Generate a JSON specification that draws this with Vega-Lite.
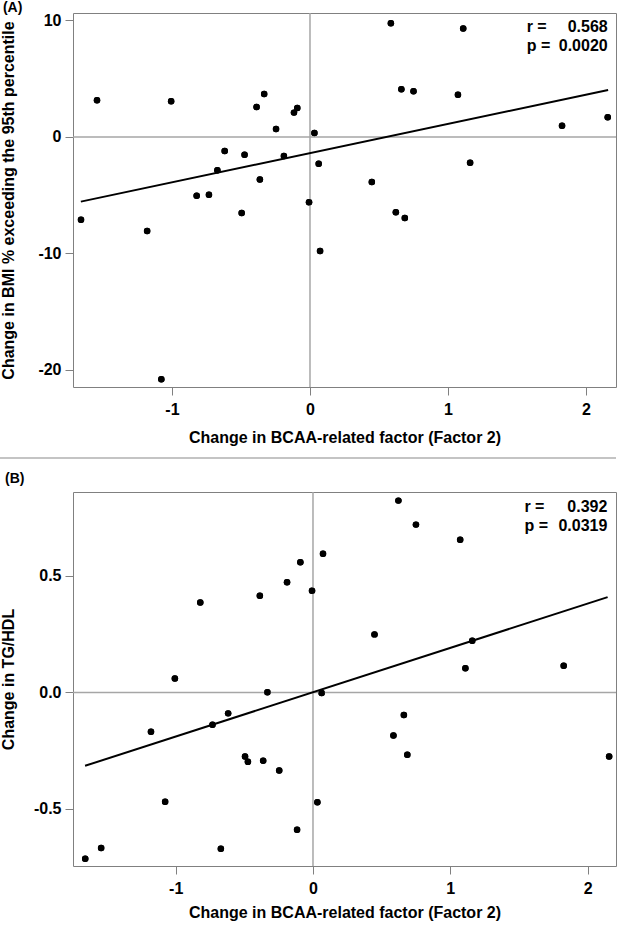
{
  "$schema": "https://vega.github.io/schema/vega-lite/v6.json",
  "padding": {"left": -3, "top": 0, "right": 0, "bottom": 0},
  "autosize": {"type": "pad"},
  "spacing": 11,
  "datasets": {
    "pts": [
      {"x": -1.659, "bmi": -7.10, "tg": -0.714},
      {"x": -1.543, "bmi": 3.15, "tg": -0.668},
      {"x": -1.180, "bmi": -8.07, "tg": -0.169},
      {"x": -1.077, "bmi": -20.8, "tg": -0.469},
      {"x": -1.006, "bmi": 3.06, "tg": 0.060},
      {"x": -0.821, "bmi": -5.04, "tg": 0.386},
      {"x": -0.732, "bmi": -4.95, "tg": -0.139},
      {"x": -0.671, "bmi": -2.86, "tg": -0.671},
      {"x": -0.618, "bmi": -1.20, "tg": -0.090},
      {"x": -0.495, "bmi": -6.52, "tg": -0.275},
      {"x": -0.474, "bmi": -1.52, "tg": -0.298},
      {"x": -0.387, "bmi": 2.58, "tg": 0.415},
      {"x": -0.363, "bmi": -3.66, "tg": -0.293},
      {"x": -0.332, "bmi": 3.69, "tg": 0.001},
      {"x": -0.246, "bmi": 0.69, "tg": -0.335},
      {"x": -0.189, "bmi": -1.63, "tg": 0.473},
      {"x": -0.116, "bmi": 2.09, "tg": -0.589},
      {"x": -0.092, "bmi": 2.49, "tg": 0.559},
      {"x": -0.007, "bmi": -5.61, "tg": 0.436},
      {"x": 0.032, "bmi": 0.34, "tg": -0.471},
      {"x": 0.063, "bmi": -2.29, "tg": -0.003},
      {"x": 0.073, "bmi": -9.78, "tg": 0.595},
      {"x": 0.448, "bmi": -3.86, "tg": 0.249},
      {"x": 0.586, "bmi": 9.76, "tg": -0.185},
      {"x": 0.622, "bmi": -6.47, "tg": 0.823},
      {"x": 0.662, "bmi": 4.09, "tg": -0.097},
      {"x": 0.687, "bmi": -6.95, "tg": -0.268},
      {"x": 0.750, "bmi": 3.92, "tg": 0.720},
      {"x": 1.072, "bmi": 3.63, "tg": 0.655},
      {"x": 1.110, "bmi": 9.30, "tg": 0.104},
      {"x": 1.160, "bmi": -2.21, "tg": 0.222},
      {"x": 1.826, "bmi": 0.97, "tg": 0.114},
      {"x": 2.157, "bmi": 1.69, "tg": -0.275}
    ],
    "fitA": [
      {"x": -1.66, "bmi": -5.55},
      {"x": 2.16, "bmi": 4.03}
    ],
    "fitB": [
      {"x": -1.66, "tg": -0.315},
      {"x": 2.146, "tg": 0.409}
    ],
    "statA": [
      {"lx": 1.57, "rx": 2.157, "bmi": 9.44, "k": "r =", "v": "0.568"},
      {"lx": 1.57, "rx": 2.157, "bmi": 7.84, "k": "p =", "v": "0.0020"}
    ],
    "statB": [
      {"lx": 1.54, "rx": 2.144, "tg": 0.795, "k": "r =", "v": "0.392"},
      {"lx": 1.54, "rx": 2.144, "tg": 0.715, "k": "p =", "v": "0.0319"}
    ],
    "one": [{"k": "ref"}]
  },
  "vconcat": [
    {
      "width": 543,
      "height": 374,
      "title": {"text": "(A)", "anchor": "start", "frame": "bounds", "offset": -3, "dx": 5, "fontSize": 14, "fontWeight": "bold"},
      "layer": [
        {
          "data": {"name": "pts"},
          "mark": {"type": "circle", "color": "#000000", "opacity": 1, "size": 42},
          "encoding": {
            "x": {"field": "x", "type": "quantitative", "scale": {"domain": [-1.717, 2.217], "nice": false, "zero": false},
              "axis": {"title": "Change in BCAA-related factor (Factor 2)", "values": [-1, 0, 1, 2], "labelExpr": "replace(format(datum.value, 'd'), '\u2212', '-')", "labelPadding": 6, "titlePadding": 12}},
            "y": {"field": "bmi", "type": "quantitative", "scale": {"domain": [-21.46, 10.64], "nice": false, "zero": false},
              "axis": {"title": "Change in BMI % exceeding the 95th percentile", "values": [-20, -10, 0, 10], "labelExpr": "replace(format(datum.value, 'd'), '\u2212', '-')", "labelPadding": 4, "minExtent": 34, "maxExtent": 34, "titlePadding": 23}}
          }
        },
        {
          "data": {"name": "one"},
          "mark": {"type": "rule", "color": "#a6a6a6", "strokeWidth": 1.5},
          "encoding": {
            "x": {"datum": 0, "type": "quantitative"}
          }
        },
        {
          "data": {"name": "one"},
          "mark": {"type": "rule", "color": "#a6a6a6", "strokeWidth": 1.5},
          "encoding": {
            "y": {"datum": 0, "type": "quantitative"}
          }
        },
        {
          "data": {"name": "one"},
          "mark": {"type": "rule", "color": "#c4c4c4", "strokeWidth": 2, "clip": false},
          "encoding": {
            "x": {"datum": -2.254, "type": "quantitative"},
            "x2": {"datum": 2.217},
            "y": {"datum": -27.55, "type": "quantitative"}
          }
        },
        {
          "data": {"name": "fitA"},
          "mark": {"type": "line", "color": "#000000", "strokeWidth": 2},
          "encoding": {
            "x": {"field": "x", "type": "quantitative"},
            "y": {"field": "bmi", "type": "quantitative"}
          }
        },
        {
          "data": {"name": "pts"},
          "mark": {"type": "circle", "color": "#000000", "opacity": 1, "size": 42},
          "encoding": {
            "x": {"field": "x", "type": "quantitative"},
            "y": {"field": "bmi", "type": "quantitative"}
          }
        },
        {
          "data": {"name": "statA"},
          "mark": {"type": "text", "align": "left", "baseline": "middle", "fontSize": 16, "fontWeight": "bold", "color": "#000000"},
          "encoding": {
            "x": {"field": "lx", "type": "quantitative"},
            "y": {"field": "bmi", "type": "quantitative"},
            "text": {"field": "k"}
          }
        },
        {
          "data": {"name": "statA"},
          "mark": {"type": "text", "align": "right", "baseline": "middle", "fontSize": 16, "fontWeight": "bold", "color": "#000000"},
          "encoding": {
            "x": {"field": "rx", "type": "quantitative"},
            "y": {"field": "bmi", "type": "quantitative"},
            "text": {"field": "v"}
          }
        }
      ]
    },
    {
      "width": 543,
      "height": 374,
      "title": {"text": "(B)", "anchor": "start", "frame": "bounds", "offset": 5, "dx": 5, "fontSize": 14, "fontWeight": "bold"},
      "layer": [
        {
          "data": {"name": "pts"},
          "mark": {"type": "circle", "color": "#000000", "opacity": 1, "size": 42},
          "encoding": {
            "x": {"field": "x", "type": "quantitative", "scale": {"domain": [-1.748, 2.207], "nice": false, "zero": false},
              "axis": {"title": "Change in BCAA-related factor (Factor 2)", "values": [-1, 0, 1, 2], "labelExpr": "replace(format(datum.value, 'd'), '\u2212', '-')", "labelPadding": 6, "titlePadding": 8}},
            "y": {"field": "tg", "type": "quantitative", "scale": {"domain": [-0.745, 0.86], "nice": false, "zero": false},
              "axis": {"title": "Change in TG/HDL", "values": [-0.5, 0, 0.5], "labelExpr": "replace(format(datum.value, '.1f'), '\u2212', '-')", "labelPadding": 4, "minExtent": 34, "maxExtent": 34, "titlePadding": 23}}
          }
        },
        {
          "data": {"name": "one"},
          "mark": {"type": "rule", "color": "#a6a6a6", "strokeWidth": 1.5},
          "encoding": {
            "x": {"datum": 0, "type": "quantitative"}
          }
        },
        {
          "data": {"name": "one"},
          "mark": {"type": "rule", "color": "#a6a6a6", "strokeWidth": 1.5},
          "encoding": {
            "y": {"datum": 0, "type": "quantitative"}
          }
        },
        {
          "data": {"name": "fitB"},
          "mark": {"type": "line", "color": "#000000", "strokeWidth": 2},
          "encoding": {
            "x": {"field": "x", "type": "quantitative"},
            "y": {"field": "tg", "type": "quantitative"}
          }
        },
        {
          "data": {"name": "pts"},
          "mark": {"type": "circle", "color": "#000000", "opacity": 1, "size": 42},
          "encoding": {
            "x": {"field": "x", "type": "quantitative"},
            "y": {"field": "tg", "type": "quantitative"}
          }
        },
        {
          "data": {"name": "statB"},
          "mark": {"type": "text", "align": "left", "baseline": "middle", "fontSize": 16, "fontWeight": "bold", "color": "#000000"},
          "encoding": {
            "x": {"field": "lx", "type": "quantitative"},
            "y": {"field": "tg", "type": "quantitative"},
            "text": {"field": "k"}
          }
        },
        {
          "data": {"name": "statB"},
          "mark": {"type": "text", "align": "right", "baseline": "middle", "fontSize": 16, "fontWeight": "bold", "color": "#000000"},
          "encoding": {
            "x": {"field": "rx", "type": "quantitative"},
            "y": {"field": "tg", "type": "quantitative"},
            "text": {"field": "v"}
          }
        }
      ]
    }
  ],
  "config": {
    "font": "Liberation Sans",
    "background": "#ffffff",
    "view": {"stroke": "#808080", "strokeWidth": 1},
    "title": {"font": "Liberation Sans", "color": "#000000"},
    "axis": {
      "labelFont": "Liberation Sans",
      "labelFontSize": 16,
      "labelFontWeight": "bold",
      "labelColor": "#000000",
      "titleFont": "Liberation Sans",
      "titleFontSize": 16,
      "titleFontWeight": "bold",
      "titleColor": "#000000",
      "domain": false,
      "grid": false,
      "tickColor": "#808080",
      "tickSize": 8,
      "tickWidth": 1
    }
  }
}
